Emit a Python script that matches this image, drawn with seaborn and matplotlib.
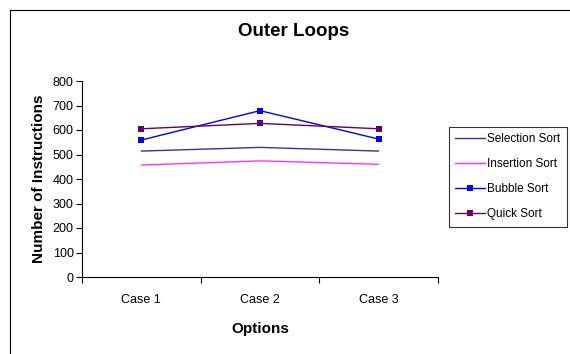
import matplotlib
matplotlib.use("Agg")
import matplotlib.pyplot as plt
from matplotlib.lines import Line2D
import seaborn as sns
import pandas as pd

cases = ["Case 1", "Case 2", "Case 3"]
selection_sort = [514, 529, 514]
insertion_sort = [457, 474, 460]
bubble_sort = [559, 679, 563]
quick_sort = [605, 627, 605]

series_names = ["Selection Sort", "Insertion Sort", "Bubble Sort", "Quick Sort"]
series_values = [selection_sort, insertion_sort, bubble_sort, quick_sort]
colors = ["#333399", "#FF33FF", "#0000FF", "#660066"]
markers = [None, None, "s", "s"]

rows = []
for name, vals in zip(series_names, series_values):
    for i, (c, v) in enumerate(zip(cases, vals)):
        rows.append({"pos": i, "case": c, "series": name, "value": v})
df = pd.DataFrame(rows)

sns.set_theme(style="white")
plt.rcParams["font.family"] = ["Liberation Sans", "DejaVu Sans"]
plt.rcParams["text.color"] = "#000000"
plt.rcParams["axes.labelcolor"] = "#000000"
plt.rcParams["xtick.color"] = "#000000"
plt.rcParams["ytick.color"] = "#000000"

fig = plt.figure(figsize=(5.7, 3.54), dpi=100)
ax = fig.add_axes([82 / 570, 1 - 277 / 354, (438 - 82) / 570, (277 - 81) / 354])

for name, color, mk in zip(series_names, colors, markers):
    sub = df[df["series"] == name]
    sns.lineplot(data=sub, x="pos", y="value", ax=ax, color=color, linewidth=1.0,
                 marker=mk, markersize=4, markeredgewidth=0, legend=False)

ax.set_xlim(-0.5, 2.5)
ax.set_ylim(0, 800)
ax.set_yticks(range(0, 801, 100))
ax.set_xticks(range(len(cases)))
ax.set_xticklabels(cases)
ax.set_xticks([-0.5, 0.5, 1.5, 2.5], minor=True)
ax.tick_params(axis="x", which="major", length=0, labelsize=9, pad=12, labelcolor="#000000")
ax.tick_params(axis="x", which="minor", length=4, width=0.8, color="#000000", direction="out", bottom=True)
ax.tick_params(axis="y", length=4, width=0.8, color="#000000", direction="out", left=True,
               labelsize=9, pad=2, labelcolor="#000000")

for side in ["top", "right"]:
    ax.spines[side].set_visible(False)
for side in ["left", "bottom"]:
    ax.spines[side].set_color("#000000")
    ax.spines[side].set_linewidth(0.8)

ax.set_xlabel("Options", fontsize=11, fontweight="bold", labelpad=12)
ax.set_ylabel("Number of Instructions", fontsize=11, fontweight="bold", labelpad=5)
fig.text(294 / 570, 1 - 31 / 354, "Outer Loops", ha="center", va="center",
         fontsize=13.5, fontweight="bold")

handles = [Line2D([0], [0], color=c, lw=1.0, marker=m if m else None,
                  markersize=4, markeredgewidth=0) for c, m in zip(colors, markers)]
leg = fig.legend(handles, series_names, loc="upper left",
                 bbox_to_anchor=(449 / 570, 1 - 127 / 354), fontsize=8.5,
                 frameon=True, fancybox=False, edgecolor="#000000",
                 handlelength=2.5, handletextpad=0.2, borderpad=0.55,
                 labelspacing=1.1, borderaxespad=0)
leg.get_frame().set_linewidth(0.8)

# outer chart-area border
fig.add_artist(Line2D([10 / 570, 10 / 570], [0, 1 - 10 / 354], color="#000000", lw=0.8))
fig.add_artist(Line2D([10 / 570, 1], [1 - 10 / 354, 1 - 10 / 354], color="#000000", lw=0.8))

fig.savefig("out.png", dpi=100, facecolor="white")
